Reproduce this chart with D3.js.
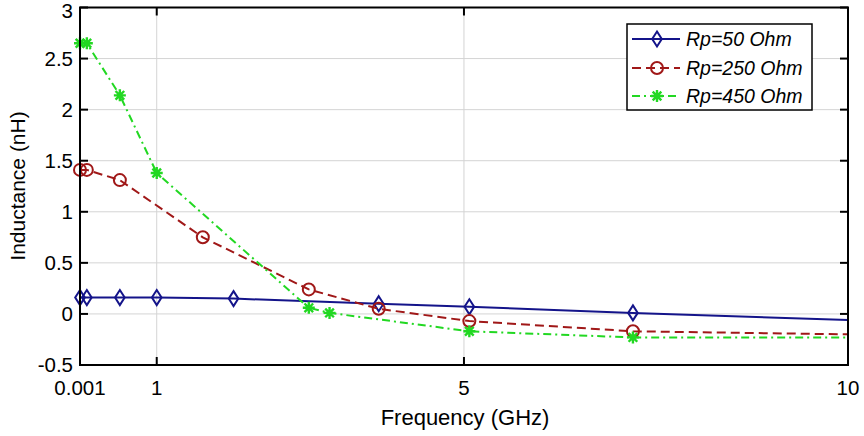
<!DOCTYPE html>
<html><head><meta charset="utf-8">
<script src="https://cdn.jsdelivr.net/npm/d3@7"></script>
<style>body{margin:0;background:#fff}svg{display:block}</style>
</head><body><svg id="c" width="864" height="436"></svg>
<script>
const xTicks = [0.001, 1, 5, 10];
const xTickLabels = ["0.001", "1", "5", "10"];
const yTicks = [-0.5, 0, 0.5, 1, 1.5, 2, 2.5, 3];
const yTickLabels = ["-0.5", "0", "0.5", "1", "1.5", "2", "2.5", "3"];

const seriesNames = ["Rp=50 Ohm", "Rp=250 Ohm", "Rp=450 Ohm"];
const x50 = [0.001, 0.09, 0.52, 1.0, 2.0, 3.89, 5.07, 7.2, 10];
const y50 = [0.16, 0.16, 0.16, 0.16, 0.15, 0.10, 0.07, 0.01, -0.06];
const x250 = [0.001, 0.09, 0.52, 1.6, 2.98, 3.89, 5.07, 7.2, 10];
const y250 = [1.41, 1.41, 1.31, 0.75, 0.24, 0.05, -0.07, -0.17, -0.20];
const x450 = [0.001, 0.09, 0.52, 1.0, 2.98, 3.25, 5.07, 7.2, 10];
const y450 = [2.65, 2.65, 2.14, 1.38, 0.06, 0.01, -0.17, -0.23, -0.23];

const colors = ["#14148a", "#a01818", "#22d822"];
const dashes = [null, "9,5", "8,4,2,4"];
const markers = ["diamond", "circle", "star"];

const svg = d3.select("#c");
const L = 80, R = 848, T = 7.5, B = 365;
const x = d3.scaleLinear().domain([0.001, 10]).range([L, R]);
const y = d3.scaleLinear().domain([-0.5, 3]).range([B, T]);
const font = "'Liberation Sans', Arial, sans-serif";

// grid
const g = svg.append("g");
g.selectAll(".gy").data(yTicks.slice(1, -1)).enter().append("line")
  .attr("x1", L).attr("x2", R).attr("y1", d => y(d)).attr("y2", d => y(d))
  .attr("stroke", "#d4d4d4").attr("stroke-width", 1);
g.selectAll(".gx").data(xTicks.slice(1, -1)).enter().append("line")
  .attr("y1", T).attr("y2", B).attr("x1", d => x(d)).attr("x2", d => x(d))
  .attr("stroke", "#d4d4d4").attr("stroke-width", 1);

// series
const data = [[x50, y50], [x250, y250], [x450, y450]];
const line = d3.line().x(d => x(d[0])).y(d => y(d[1]));
function drawMarker(sel, type, color) {
  if (type === "diamond") {
    sel.append("path").attr("d", "M0,-7.5 L4.8,0 L0,7.5 L-4.8,0 Z")
      .attr("fill", "none").attr("stroke", color).attr("stroke-width", 2);
  } else if (type === "circle") {
    sel.append("circle").attr("r", 6).attr("fill", "none")
      .attr("stroke", color).attr("stroke-width", 2);
  } else {
    const s = 6;
    sel.append("path").attr("d",
      `M${-s},0L${s},0M0,${-s}L0,${s}M${-s*0.72},${-s*0.72}L${s*0.72},${s*0.72}M${-s*0.72},${s*0.72}L${s*0.72},${-s*0.72}`)
      .attr("stroke", color).attr("stroke-width", 2.4);
  }
}
data.forEach((d, i) => {
  const pts = d[0].map((v, k) => [v, d[1][k]]);
  svg.append("path").datum(pts).attr("d", line).attr("fill", "none")
    .attr("stroke", colors[i]).attr("stroke-width", 2)
    .attr("stroke-dasharray", dashes[i]);
  pts.slice(0, -1).forEach(p => {
    const m = svg.append("g").attr("transform", `translate(${x(p[0])},${y(p[1])})`);
    drawMarker(m, markers[i], colors[i]);
  });
});

// axes box
svg.append("rect").attr("x", L).attr("y", T).attr("width", R - L).attr("height", B - T)
  .attr("fill", "none").attr("stroke", "#000").attr("stroke-width", 2);

// ticks (inside, on both sides)
const tl = 8;
const ax = svg.append("g");
xTicks.forEach(t => {
  ax.append("line").attr("x1", x(t)).attr("x2", x(t)).attr("y1", B).attr("y2", B - tl).attr("stroke", "#000").attr("stroke-width", 2);
  ax.append("line").attr("x1", x(t)).attr("x2", x(t)).attr("y1", T).attr("y2", T + tl).attr("stroke", "#000").attr("stroke-width", 2);
});
yTicks.forEach(t => {
  ax.append("line").attr("x1", L).attr("x2", L + tl).attr("y1", y(t)).attr("y2", y(t)).attr("stroke", "#000").attr("stroke-width", 2);
  ax.append("line").attr("x1", R).attr("x2", R - tl).attr("y1", y(t)).attr("y2", y(t)).attr("stroke", "#000").attr("stroke-width", 2);
});
ax.selectAll(".xl").data(xTicks).enter().append("text")
  .attr("x", d => x(d)).attr("y", 395).attr("text-anchor", "middle")
  .attr("font-family", font).attr("font-size", 20.5).text((d, i) => xTickLabels[i]);
ax.selectAll(".yl").data(yTicks).enter().append("text")
  .attr("x", 73).attr("y", d => Math.max(y(d) + 7, 18)).attr("text-anchor", "end")
  .attr("font-family", font).attr("font-size", 20.5).text((d, i) => yTickLabels[i]);

svg.append("text").attr("x", 465).attr("y", 425).attr("text-anchor", "middle")
  .attr("font-family", font).attr("font-size", 22).text("Frequency (GHz)");
svg.append("text").attr("transform", "translate(25,186) rotate(-90)").attr("text-anchor", "middle")
  .attr("font-family", font).attr("font-size", 21).text("Inductance (nH)");

// legend
const lg = svg.append("g");
lg.append("rect").attr("x", 627).attr("y", 24).attr("width", 185).attr("height", 86)
  .attr("fill", "#fff").attr("stroke", "#000").attr("stroke-width", 1.5);
[39, 68, 96].forEach((cy, i) => {
  lg.append("line").attr("x1", 632).attr("x2", 680).attr("y1", cy).attr("y2", cy)
    .attr("stroke", colors[i]).attr("stroke-width", 2).attr("stroke-dasharray", dashes[i]);
  drawMarker(lg.append("g").attr("transform", `translate(657,${cy})`), markers[i], colors[i]);
  lg.append("text").attr("x", 686).attr("y", cy + 7).attr("font-family", font)
    .attr("font-style", "italic").attr("font-size", 19.5).text(seriesNames[i]);
});
</script></body></html>
